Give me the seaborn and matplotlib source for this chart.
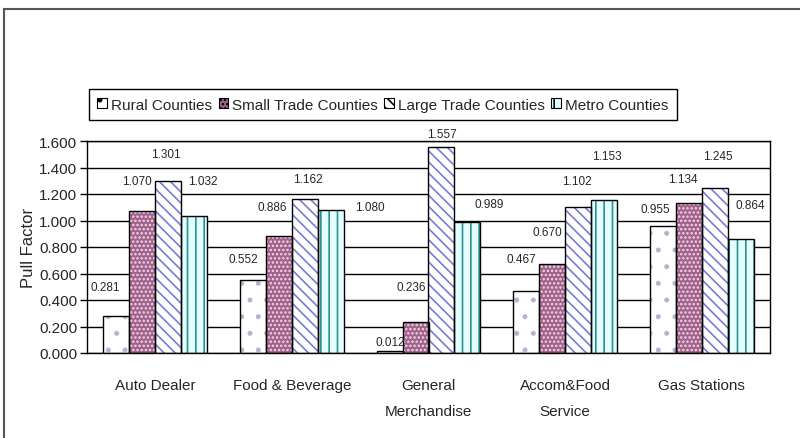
import matplotlib
matplotlib.use("Agg")
import matplotlib.pyplot as plt
import matplotlib.patches as mpatches
import numpy as np
import pandas as pd
import seaborn as sns


# Данные
categories = ["Auto Dealer", "Food & Beverage", "General\nMerchandise",
              "Accom&Food\nService", "Gas Stations"]
series = ["Rural Counties", "Small Trade Counties",
          "Large Trade Counties", "Metro Counties"]
rural = [0.281, 0.552, 0.012, 0.467, 0.955]
small_trade = [1.070, 0.886, 0.236, 0.670, 1.134]
large_trade = [1.301, 1.162, 1.557, 1.102, 1.245]
metro = [1.032, 1.080, 0.989, 1.153, 0.864]
y_ticks = [0.0, 0.2, 0.4, 0.6, 0.8, 1.0, 1.2, 1.4, 1.6]

# сдвиги подписей (px) относительно верха столбца, по сериям
label_nudge = [
    [(-11, 29), (-10, 21), (1, 9), (-5, 32), (-7, 17)],
    [(-5, 30), (-7, 29), (-4, 35), (-5, 32), (-6, 24)],
    [(-2, 27), (3, 20), (0, 13), (-1, 26), (3, 32)],
    [(9, 35), (39, 3), (22, 18), (3, 44), (10, 34)],
]

# стиль заливки для каждой серии
styles = [
    dict(face="white", hatch=".", hcolor="#b4b4d0"),
    dict(face="#a0628a", hatch="....", hcolor="#f2d6e8"),
    dict(face="white", hatch="\\\\\\", hcolor="#7a7ad6"),
    dict(face="#e4ffff", hatch="||", hcolor="#2e8f8f"),
]

df = pd.DataFrame({
    "category": np.tile(categories, 4),
    "series": np.repeat(series, 5),
    "value": rural + small_trade + large_trade + metro,
})

sns.set_style("white")
plt.rcParams["font.family"] = ["Liberation Sans", "DejaVu Sans"]
plt.rcParams["hatch.linewidth"] = 1.2

fig = plt.figure(figsize=(8, 4.39), dpi=100)
ax = fig.add_axes([87 / 800, 85 / 439, 683 / 800, 212 / 439])

sns.barplot(data=df, x="category", y="value", hue="series", order=categories,
            hue_order=series, width=0.76, ax=ax, legend=False, errorbar=None)

for i, cont in enumerate(ax.containers):
    st = styles[i]
    for j, bar in enumerate(cont):
        bar.set_facecolor(st["face"])
        bar.set_hatch(st["hatch"])
        bar.set_edgecolor(st["hcolor"])
        bar.set_linewidth(0)
        # чёрная рамка поверх штриховки
        ax.add_patch(mpatches.Rectangle(bar.get_xy(), bar.get_width(), bar.get_height(),
                                        fill=False, edgecolor="black", linewidth=1.0,
                                        zorder=bar.get_zorder() + 0.1))
        dx, dy = label_nudge[i][j]
        val = cont.datavalues[j]
        ax.annotate(f"{val:.3f}", (bar.get_x() + bar.get_width() / 2, bar.get_height()),
                    xytext=(dx, dy), textcoords="offset pixels",
                    ha="center", va="center", fontsize=8.5)

ax.set_ylim(0, 1.6)
ax.set_xlim(-0.5, 4.5)
ax.set_yticks(y_ticks)
ax.set_yticklabels([f"{t:.3f}" for t in y_ticks], fontsize=11)
ax.set_xticks(np.arange(-0.5, 5, 1))
ax.set_xticklabels([])
ax.set_xticks(range(5), minor=True)
ax.set_xticklabels(categories, minor=True, fontsize=11, linespacing=2.1)
ax.tick_params(axis="x", which="major", length=5, width=1, color="black", direction="out")
ax.tick_params(axis="x", which="minor", length=0, pad=18)
ax.tick_params(axis="y", length=5, width=1, color="black", direction="out", pad=2, left=True)
ax.yaxis.grid(True, color="black", linewidth=1)
ax.set_axisbelow(True)
for sp in ax.spines.values():
    sp.set_color("black")
    sp.set_linewidth(1)

ax.set_xlabel("")
ax.set_ylabel("Pull Factor", fontsize=12)
ax.yaxis.set_label_coords(-0.074, 0.5)

# легенда
handles = [mpatches.Patch(facecolor=st["face"], hatch=st["hatch"], edgecolor="black",
                          linewidth=0.8) for st in styles]
fig.legend(handles, series, loc="lower left", ncol=4, mode="expand",
           bbox_to_anchor=(89 / 800, 318 / 439, 588 / 800, 36 / 439),
           borderaxespad=0, fancybox=False, edgecolor="black", framealpha=1,
           fontsize=11, handlelength=0.6, handleheight=0.6, handletextpad=0.3,
           columnspacing=0.6, borderpad=0.55)

# внешняя рамка диаграммы
fig.patches.append(mpatches.Rectangle((4 / 800, -0.1), 1.2, 429 / 439 + 0.1,
                                      transform=fig.transFigure, fill=False,
                                      edgecolor="#555555", linewidth=1.5))

fig.savefig("out.png", dpi=100)
